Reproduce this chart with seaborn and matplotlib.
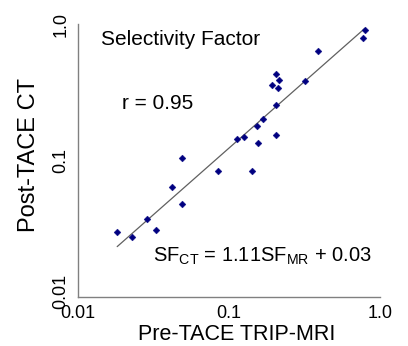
import matplotlib
matplotlib.use("Agg")
import matplotlib.pyplot as plt
import matplotlib.transforms as mtransforms
import seaborn as sns
import pandas as pd

# Data (Selectivity Factor, log-log axes)
sf_mri = [0.80, 0.775, 0.39, 0.204, 0.215, 0.194, 0.211, 0.317, 0.206, 0.169,
          0.154, 0.114, 0.126, 0.204, 0.156, 0.049, 0.0846, 0.142, 0.0421, 0.0486,
          0.0288, 0.033, 0.0181, 0.0229]
sf_ct = [0.90, 0.785, 0.637, 0.428, 0.387, 0.359, 0.338, 0.380, 0.255, 0.202,
         0.178, 0.144, 0.149, 0.155, 0.134, 0.104, 0.0833, 0.0833, 0.0643, 0.0478,
         0.0371, 0.0311, 0.0298, 0.0277]
fit_x = [0.0182, 0.796]
fit_y = [0.0234, 0.93]
tick_vals = [0.01, 0.1, 1.0]
tick_labels = ["0.01", "0.1", "1.0"]

sns.set_style("white")
plt.rcParams["font.family"] = ["Liberation Sans", "DejaVu Sans"]
plt.rcParams["mathtext.fontset"] = "custom"
plt.rcParams["mathtext.rm"] = "Liberation Sans"
plt.rcParams["mathtext.it"] = "Liberation Sans"
plt.rcParams["mathtext.default"] = "regular"
plt.rcParams["text.color"] = "black"
plt.rcParams["axes.labelcolor"] = "black"
plt.rcParams["xtick.color"] = "black"
plt.rcParams["ytick.color"] = "black"

df = pd.DataFrame({"mri": sf_mri, "ct": sf_ct})
fit = pd.DataFrame({"x": fit_x, "y": fit_y})

fig = plt.figure(figsize=(4.08, 3.46), dpi=100)
ax = fig.add_axes([0.191, 0.1416, 0.740, 0.789])

sns.lineplot(data=fit, x="x", y="y", ax=ax, color="#606060", linewidth=0.9, sort=False)
sns.scatterplot(data=df, x="mri", y="ct", ax=ax, marker="D", s=12, color="#000080",
                edgecolor="#000080", linewidth=0.3, zorder=3)

ax.set_xscale("log")
ax.set_yscale("log")
ax.set_xlim(0.01, 1.0)
ax.set_ylim(0.01, 1.0)
ax.set_xticks(tick_vals)
ax.set_xticklabels(tick_labels)
ax.set_yticks(tick_vals)
ax.set_yticklabels(tick_labels)
ax.minorticks_off()
ax.tick_params(axis="both", which="major", direction="out", length=4, width=1,
               color="#808080", labelsize=13, pad=2, labelcolor="black")
ax.tick_params(axis="y", labelrotation=90)
ylabs = ax.get_yticklabels()
for lab in ylabs:
    lab.set_va("center")
# nudge the lowest y tick label up slightly so it clears the x tick label
ylabs[0].set_transform(ylabs[0].get_transform() +
                       mtransforms.ScaledTranslation(0, 6 / 100, fig.dpi_scale_trans))

for s in ["top", "right"]:
    ax.spines[s].set_visible(False)
for s in ["left", "bottom"]:
    ax.spines[s].set_color("#808080")
    ax.spines[s].set_linewidth(1)

ax.set_xlabel("Pre-TACE TRIP-MRI", fontsize=15.5)
ax.set_ylabel("Post-TACE CT", fontsize=17)
ax.xaxis.set_label_coords(0.527, -0.098)
ax.yaxis.set_label_coords(-0.125, 0.52)

ax.text(0.078, 0.924, "Selectivity Factor", transform=ax.transAxes, fontsize=15,
        va="baseline", ha="left")
ax.text(0.145, 0.689, "r = 0.95", transform=ax.transAxes, fontsize=15,
        va="baseline", ha="left")
ax.text(0.247, 0.129, r"SF$_{CT}$ = 1.11SF$_{MR}$ + 0.03", transform=ax.transAxes,
        fontsize=14.5, va="baseline", ha="left")

fig.savefig("out.png", dpi=100)
